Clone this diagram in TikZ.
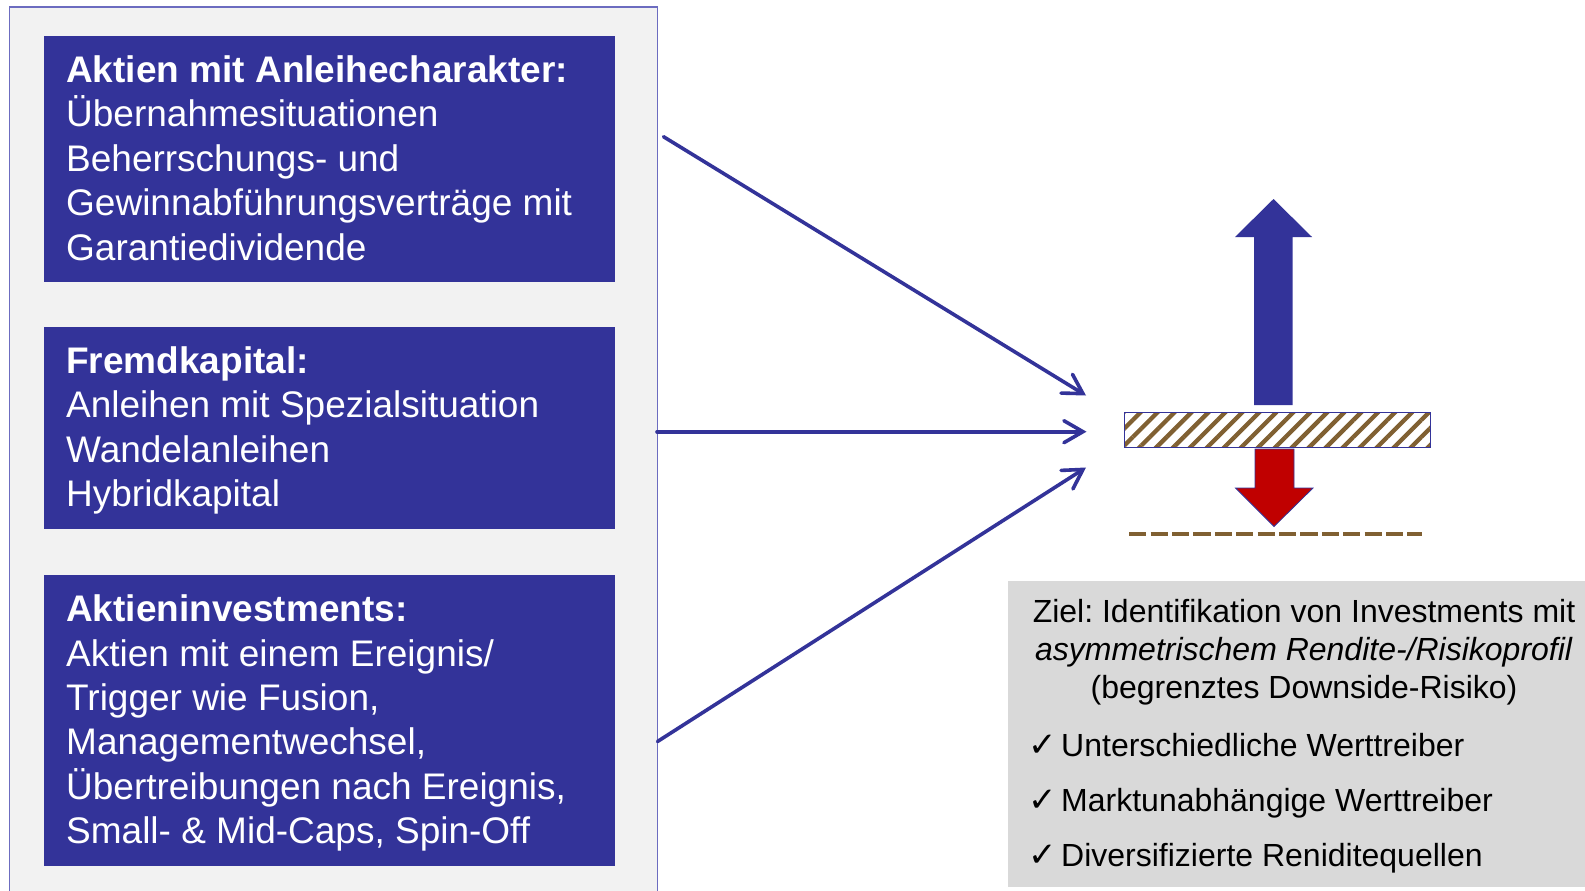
\documentclass[tikz,border=0pt]{standalone}
\usepackage{fontspec}
\setmainfont{Liberation Sans}
\newfontfamily\checkfont{DejaVu Sans}
\usetikzlibrary{arrows.meta,patterns.meta}
\definecolor{myblue}{HTML}{333399}
\definecolor{panelgrey}{HTML}{F2F2F2}
\definecolor{panelborder}{HTML}{6C6CC0}
\definecolor{boxgrey}{HTML}{D9D9D9}
\definecolor{myred}{HTML}{C00000}
\definecolor{mybrown}{HTML}{806032}
\newcommand{\chk}{\makebox[33pt][l]{\checkfont\fontsize{34}{34}\selectfont ✓}}
\tikzset{
  bluebox/.style={fill=myblue, draw=none, inner sep=0pt, anchor=north west, minimum width=571pt},
  boxtext/.style={text=white, inner sep=0pt, anchor=base west, font=\fontsize{37}{44.4}\selectfont},
  conn/.style={draw=myblue, line width=3.6pt, line cap=round, -{Straight Barb[length=19pt,width=22pt,line cap=round]}},
}
\begin{document}
\frenchspacing
\begin{tikzpicture}[x=1pt,y=-1pt]
\clip (0,0) rectangle (1585,891);
\fill[white] (0,0) rectangle (1585,891);
% left panel
\node[fill=panelgrey, draw=panelborder, line width=1.3pt, inner sep=0pt, anchor=north west,
      minimum width=647.5pt, minimum height=900pt] (panel) at (9,6.5) {};
% blue boxes
\node[bluebox, minimum height=246pt] (b1) at (44,36) {};
\node[bluebox, minimum height=201.6pt] (b2) at (44,327) {};
\node[bluebox, minimum height=291.3pt] (b3) at (44,574.7) {};
\node[boxtext] (t1) at (66,82.5) {\vtop{%
  \hbox{\bfseries Aktien mit Anleihecharakter:}
  \hbox{Übernahmesituationen}
  \hbox{Beherrschungs- und}
  \hbox{Gewinnabführungsverträge mit}
  \hbox{Garantiedividende}}};
\node[boxtext] (t2) at (66,373.5) {\vtop{%
  \hbox{\bfseries Fremdkapital:}
  \hbox{Anleihen mit Spezialsituation}
  \hbox{Wandelanleihen}
  \hbox{Hybridkapital}}};
\node[boxtext] (t3) at (66,621.6) {\vtop{%
  \hbox{\bfseries Aktieninvestments:}
  \hbox{Aktien mit einem Ereignis/}
  \hbox{Trigger wie Fusion,}
  \hbox{Managementwechsel,}
  \hbox{Übertreibungen nach Ereignis,}
  \hbox{Small- \& Mid-Caps, Spin-Off}}};
% connector end points
\coordinate (s1) at (663.5,136.7);
\coordinate (s2) at (657,431.7);
\coordinate (s3) at (657.5,741.5);
\coordinate (e1) at (1086,395.5);
\coordinate (e2) at (1086.5,431.7);
\coordinate (e3) at (1086,467.5);
\draw[conn] (s1) -- (e1);
\draw[conn] (s2) -- (e2);
\draw[conn] (s3) -- (e3);
% hatched bar
\node[draw=myblue, line width=1.2pt, inner sep=0pt, anchor=north west,
      minimum width=306pt, minimum height=35pt,
      pattern={Lines[angle=45,distance=12pt,line width=4.3pt]}, pattern color=mybrown] (bar) at (1122.5,410.5) {};
% up arrow
\fill[myblue] (1254,405) -- (1254,237) -- (1235,237) -- (1273.5,199) -- (1312,237) -- (1292.5,237) -- (1292.5,405) -- cycle;
% down arrow
\filldraw[fill=myred, draw=myblue, line width=0.8pt] (1255,449) -- (1255,488) -- (1235.5,488) -- (1274,526.5) -- (1313,488) -- (1294,488) -- (1294,449) -- cycle;
% dashed floor
\coordinate (d1) at (1129.2,534);
\coordinate (d2) at (1421.6,534);
\draw[mybrown, line width=4.7pt, dash pattern=on 17.2pt off 4.2pt] (d1) -- (d2);
% grey goal box
\node[fill=boxgrey, inner sep=0pt, anchor=north west, minimum width=600pt, minimum height=306pt] (goal) at (1008,581) {};
\node[inner sep=0pt, anchor=base, font=\fontsize{32}{37.9}\selectfont] (g1) at (1304,622.3) {\vtop{\hsize=620pt\parindent=0pt\centering
  Ziel: Identifikation von Investments mit\\
  \textit{asymmetrischem Rendite-/Risikoprofil}\\
  (begrenztes Downside-Risiko)\par}};
\node[inner sep=0pt, anchor=base west, font=\fontsize{32}{55}\selectfont] (g2) at (1028,756.7) {\vtop{%
  \hbox{\chk Unterschiedliche Werttreiber}
  \hbox{\chk Marktunabhängige Werttreiber}
  \hbox{\chk Diversifizierte Reniditequellen}}};
\end{tikzpicture}
\end{document}
